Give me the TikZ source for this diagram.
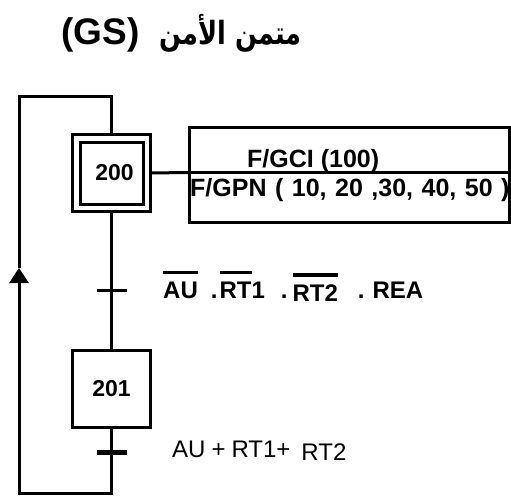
\documentclass[tikz,border=0pt]{standalone}
\usepackage{fontspec}
\setmainfont{Liberation Sans}
\newfontfamily\arabicfont[Script=Arabic,FakeStretch=0.8]{DejaVu Sans}
\TeXXeTstate=1
\usetikzlibrary{arrows.meta,backgrounds}

% negated signal: bar over the text
\newcommand{\nonsig}[2][2.5pt]{\leavevmode\vbox{\hrule height #1\kern 7.5pt\hbox{#2}}}

\begin{document}
\begin{tikzpicture}[x=1pt,y=-1pt,
  link/.style={line width=3pt},
  stepbox/.style={draw,line width=3pt,minimum width=78pt,minimum height=77pt,
    inner sep=0pt,font=\fontsize{23}{27}\selectfont\bfseries},
  initstep/.style={stepbox,line width=3pt,double,double distance=4.5pt,
    minimum width=70.5pt,minimum height=69.5pt},
  actbox/.style={draw,line width=3pt,minimum width=320pt,inner sep=0pt,
    outer sep=0pt,anchor=north west},
  trbar/.style={fill,minimum width=30pt,minimum height=#1,inner sep=0pt},
  cond/.style={anchor=base west,inner sep=0pt,font=\fontsize{24}{28}\selectfont}]
  \useasboundingbox (0,0) rectangle (511,495);

  \node[anchor=base,inner sep=0pt,font=\bfseries] (title) at (181.5,45)
    {\fontsize{32}{38}\selectfont\arabicfont\beginR متمن الأمن\hspace{20pt}\beginL{\fontsize{37}{40}\selectfont\rmfamily(GS)}\endL\endR};

  % steps
  \node[initstep] (s200) at (111.5,173) {\hspace{6pt}200};
  \node[stepbox] (s201) at (111.5,389) {201};

  % actions of step 200
  \node[actbox,minimum height=45pt] (act1) at (189.5,127.5) {};
  \node[actbox,minimum height=50pt] (act2) at (189.5,172.5) {};
  \node[cond,font=\fontsize{25}{30}\selectfont\bfseries] (gci) at (247,167) {F/GCI (100)};
  \node[cond,font=\fontsize{25}{30}\selectfont\bfseries] (gpn) at (190,196)
    {\spaceskip=8.5pt\relax F/GPN ( 10, 20 ,30, 40, 50 )};

  % transitions
  \node[trbar=3pt] (t1) at (111.5,290) {};
  \node[trbar=5pt] (t2) at (111.5,452) {};
  \node[cond,font=\fontsize{24}{28}\selectfont\bfseries] (c1) at (163,298)
    {\nonsig{AU}\hspace{13pt}.\hspace{2pt}\nonsig{RT}1\hspace{16pt}.\hspace{5pt}\raisebox{-3pt}{\nonsig[4pt]{RT2}}\hspace{20pt}.\hspace{8pt}REA};
  \node[cond] (c2) at (172,457)
    {AU\hspace{6pt}+\hspace{6pt}RT1+\hspace{11pt}\raisebox{-3pt}{RT2}};

  % loop back
  \coordinate (lt) at (19,96);
  \coordinate (rt) at (111.5,96);
  \coordinate (lb) at (19,493.5);
  \coordinate (rb) at (111.5,493.5);
  \coordinate (tip) at (19,268);

  \begin{scope}[on background layer]
    \draw[link] (s200.south) -- (s201.north);
    \draw[link] (s200.east) -- (act1.south west);
    \draw[link,-{Triangle[length=15pt,width=19pt]}] (s201.south) -- (rb) -- (lb) -- (tip);
    \draw[link] (tip) -- (lt) -- (rt) -- (s200.north);
  \end{scope}
\end{tikzpicture}
\end{document}
